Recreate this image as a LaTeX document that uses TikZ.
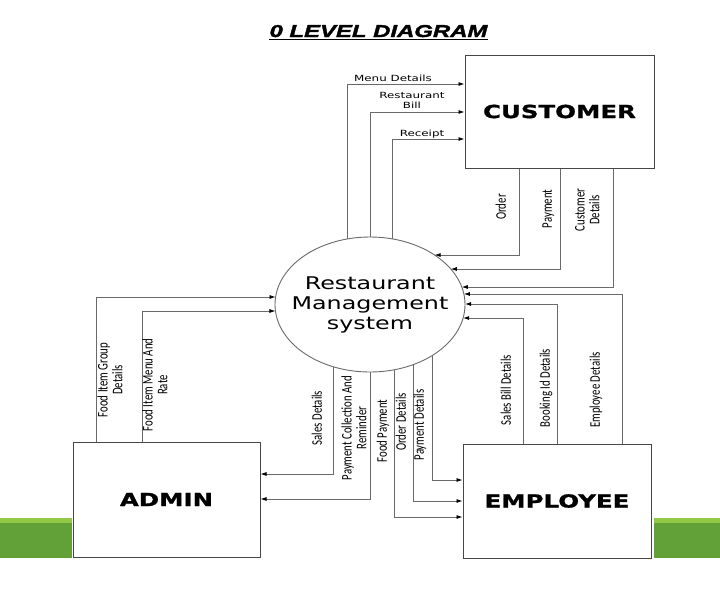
\documentclass[tikz,border=0pt]{standalone}
\usepackage{fontspec}
\usepackage{graphicx}
\usetikzlibrary{shapes.geometric,arrows.meta,calc}
\setmainfont{DejaVu Sans}
\newfontfamily\wide[FakeStretch=1.36]{DejaVu Sans}
\newfontfamily\wideb[FakeStretch=1.36,FakeBold=1.2]{DejaVu Sans}
\newfontfamily\wides[FakeStretch=1.4]{DejaVu Sans}
\newfontfamily\carl{Carlito}
\newfontfamily\titlef[FakeStretch=1.39,FakeBold=2]{Liberation Sans}
\definecolor{lgray}{RGB}{105,105,105}
\definecolor{bgray}{RGB}{70,70,70}
\definecolor{glight}{RGB}{146,200,70}
\definecolor{gdark}{RGB}{98,160,56}
\newcommand{\vtext}[1]{\scalebox{1}[1.36]{\begin{tabular}{@{}c@{}}#1\end{tabular}}}
\begin{document}
\begin{tikzpicture}[x=1pt,y=-1pt,
  declare function={ey(\x)=67.5*sqrt(1-(\x/95)^2); ex(\x)=95*sqrt(1-(\x/67.5)^2);},
  ent/.style={draw=bgray, line width=1pt, rectangle, inner sep=0, font=\wideb\bfseries\fontsize{18}{20}\selectfont},
  flow/.style={draw=lgray, line width=0.8pt},
  arr/.style={flow, -{Latex[length=6pt,width=4pt,color=black]}},
  hlab/.style={inner sep=0, font=\wides\fontsize{8.5}{10}\selectfont, align=center},
  vlab/.style={inner sep=0, rotate=90, font=\carl\fontsize{10.8}{11}\selectfont}]
\useasboundingbox (0,0) rectangle (720,611);
% green bars
\fill[gdark] (0,518) rectangle (72,558);
\fill[glight] (0,518) rectangle (72,523);
\fill[gdark] (654,518) rectangle (720,558);
\fill[glight] (654,518) rectangle (720,523);
% title
\node[inner sep=0, anchor=base, font=\titlef\bfseries\itshape\fontsize{17.2}{20}\selectfont] (title) at (378.5,37) {0 LEVEL DIAGRAM};
\draw[line width=1.8pt] ([yshift=-2.5pt]title.base west) -- ([yshift=-2.5pt]title.base east);
% entities
\node[ent, minimum width=189pt, minimum height=113pt] (cust) at (559.5,111.5) {CUSTOMER};
\node[ent, minimum width=187pt, minimum height=115pt] (admin) at (166.5,499.5) {ADMIN};
\node[ent, minimum width=188pt, minimum height=114pt] (emp) at (557,501) {EMPLOYEE};
% process
\node[ellipse, draw=lgray, line width=0.9pt, minimum width=190pt, minimum height=135pt, inner sep=0] (rms) at (370,304.5) {};
\node[inner sep=0, align=center, font=\wide\fontsize{17.5}{20}\selectfont] (rmsl) at (rms.center) {Restaurant\\Management\\system};
% border points on the ellipse
\coordinate (t1) at ($(rms.center)+(-23,{-ey(-23)})$);
\coordinate (t2) at ($(rms.center)+(0,-67.5)$);
\coordinate (t3) at ($(rms.center)+(22,{-ey(22)})$);
\coordinate (r1) at ($(rms.center)+({ex(-49.5)},-49.5)$);
\coordinate (r2) at ($(rms.center)+({ex(-35.5)},-35.5)$);
\coordinate (r3) at ($(rms.center)+({ex(-17.5)},-17.5)$);
\coordinate (r4) at ($(rms.center)+({ex(-10.5)},-10.5)$);
\coordinate (r5) at ($(rms.center)+({ex(-0.5)},-0.5)$);
\coordinate (r6) at ($(rms.center)+({ex(13.5)},13.5)$);
\coordinate (l1) at ($(rms.center)+({-ex(-7.5)},-7.5)$);
\coordinate (l2) at ($(rms.center)+({-ex(6.5)},6.5)$);
\coordinate (b1) at ($(rms.center)+(-37,{ey(-37)})$);
\coordinate (b2) at ($(rms.center)+(0,67.5)$);
\coordinate (b3) at ($(rms.center)+(24,{ey(24)})$);
\coordinate (b4) at ($(rms.center)+(43,{ey(43)})$);
\coordinate (b5) at ($(rms.center)+(62,{ey(62)})$);
% process -> customer
\draw[arr] (t1) |- (cust.west |- 0,84);
\draw[arr] (t2) |- (cust.west |- 0,112);
\draw[arr] (t3) |- (cust.west |- 0,139);
\node[hlab, anchor=base] (lmenu) at (393,81) {Menu Details};
\node[hlab] (lbill) at (412,100) {Restaurant\\Bill};
\node[hlab, anchor=base] (lrec) at (422,136) {Receipt};
% customer -> process
\draw[arr] (cust.south -| 519,0) |- (r1);
\draw[arr] (cust.south -| 560,0) |- (r2);
\draw[arr] (cust.south -| 613,0) |- (r3);
\node[vlab] (lord) at (503,207) {\vtext{Order}};
\node[vlab] (lpay) at (549,209) {\vtext{Payment}};
\node[vlab] (lcd) at (589,210) {\vtext{Customer\\Details}};
% employee -> process
\draw[arr] (emp.north -| 622,0) |- (r4);
\draw[arr] (emp.north -| 557,0) |- (r5);
\draw[arr] (emp.north -| 523,0) |- (r6);
\node[vlab] (lsb) at (508,390) {\vtext{Sales Bill Details}};
\node[vlab] (lbk) at (547,388) {\vtext{Booking Id Details}};
\node[vlab] (led) at (597,390) {\vtext{Employee Details}};
% admin -> process
\draw[arr] (admin.north -| 96,0) |- (l1);
\draw[arr] (admin.north -| 142,0) |- (l2);
\node[vlab] (lfg) at (112,380) {\vtext{Food Item Group\\Details}};
\node[vlab] (lfm) at (157,385) {\vtext{Food Item Menu And\\Rate}};
% process -> admin
\draw[arr] (b1) |- (admin.east |- 0,474);
\draw[arr] (b2) |- (admin.east |- 0,499);
\node[vlab] (lsd) at (319,418) {\vtext{Sales Details}};
\node[vlab] (lpc) at (356,428) {\vtext{Payment Collection And\\Reminder}};
% process -> employee
\draw[arr] (b3) |- (emp.west |- 0,517);
\draw[arr] (b4) |- (emp.west |- 0,501);
\draw[arr] (b5) |- (emp.west |- 0,480);
\node[vlab] (lfp) at (384,431) {\vtext{Food Payment}};
\node[vlab] (lod) at (403,422) {\vtext{Order Details}};
\node[vlab] (lpd) at (421,425) {\vtext{Payment Details}};
\end{tikzpicture}
\end{document}
